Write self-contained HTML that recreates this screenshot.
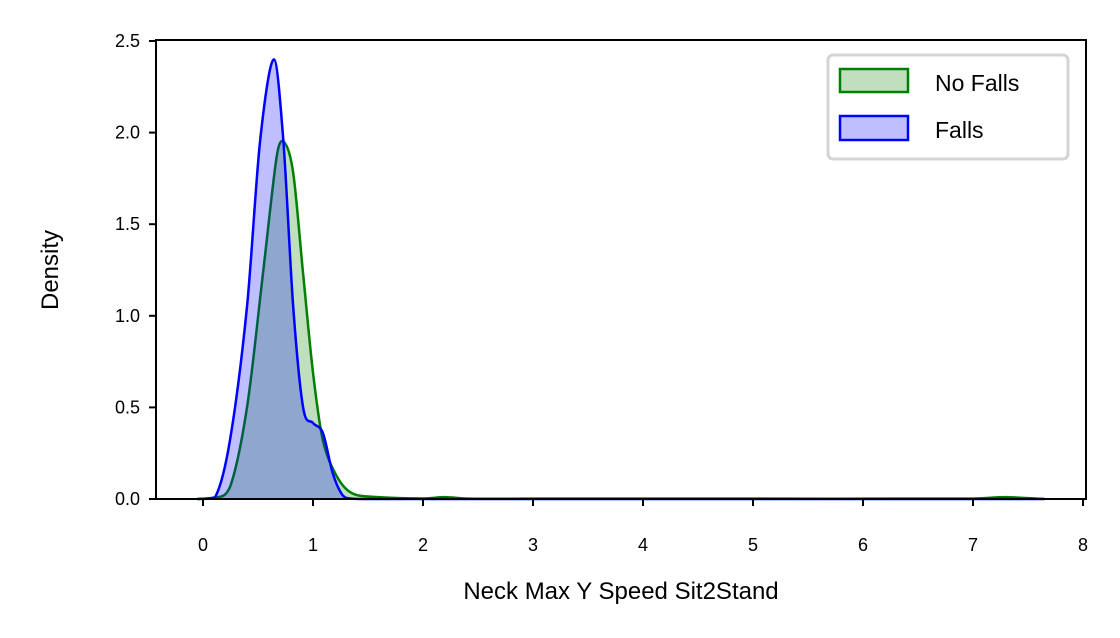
<!DOCTYPE html>
<html><head><meta charset="utf-8"><style>
body{margin:0;background:#fff;}
svg{display:block;font-family:"Liberation Sans",Arial,sans-serif;}
</style></head><body>
<svg id="chart" width="1120" height="638" viewBox="0 0 1120 638" xmlns="http://www.w3.org/2000/svg">
<rect width="1120" height="638" fill="#fff"/>
<g id="plot"></g>
<rect x="156" y="40" width="930" height="459" fill="none" stroke="#000" stroke-width="2"/>
<g id="xticks"></g>
<g id="yticks"></g>
<text x="621" y="599" font-size="24" text-anchor="middle">Neck Max Y Speed Sit2Stand</text>
<text transform="translate(58,270) rotate(-90)" font-size="24" text-anchor="middle">Density</text>
<g>
<rect x="828" y="55" width="240" height="104" rx="5" fill="#fff" stroke="#d4d4d4" stroke-width="3"/>
<rect x="840" y="69" width="68" height="23" fill="rgba(0,128,0,0.25)" stroke="#008000" stroke-width="2.5"/>
<text x="935" y="91" font-size="23">No Falls</text>
<rect x="840" y="116" width="68" height="24" fill="rgba(0,0,255,0.25)" stroke="#0000ff" stroke-width="2.5"/>
<text x="935" y="138" font-size="23">Falls</text>
</g>
</svg>
<script>
const xTicks=[0,1,2,3,4,5,6,7,8];
const yTicks=[0,0.5,1.0,1.5,2.0,2.5];
const noFallsX=[-0.05,0.1,0.245,0.4,0.545,0.67,0.735,0.82,0.91,1.0,1.09,1.22,1.36,1.6,2.0,2.2,2.4,3,5,7,7.3,7.65];
const noFallsY=[0,0.005,0.065,0.5,1.23,1.87,1.95,1.78,1.23,0.69,0.32,0.12,0.03,0.01,0.003,0.01,0.002,0.002,0.002,0.002,0.01,0];
const fallsX=[-0.05,0.11,0.245,0.4,0.52,0.645,0.73,0.82,0.91,1.0,1.09,1.18,1.27,1.35,1.45,1.6,2.0,7.65];
const fallsY=[0,0.01,0.32,1.05,1.96,2.40,1.96,1.05,0.50,0.415,0.36,0.14,0.02,0.002,0,0,0,0];
const sx=v=>203+110*v, sy=d=>499-183.2*d;
const NS="http://www.w3.org/2000/svg";
function pathD(xs,ys){
  const p=xs.map((x,i)=>[sx(x),sy(ys[i])]);
  let d="M"+p[0][0]+","+p[0][1];
  for(let i=0;i<p.length-1;i++){
    const p0=p[Math.max(0,i-1)],p1=p[i],p2=p[i+1],p3=p[Math.min(p.length-1,i+2)];
    const w1=Math.min(1,(p2[0]-p1[0])/Math.max(1,p2[0]-p0[0])*2);
    const w2=Math.min(1,(p2[0]-p1[0])/Math.max(1,p3[0]-p1[0])*2);
    let c1x=p1[0]+(p2[0]-p0[0])/6*w1, c1y=p1[1]+(p2[1]-p0[1])/6*w1;
    let c2x=p2[0]-(p3[0]-p1[0])/6*w2, c2y=p2[1]-(p3[1]-p1[1])/6*w2;
    c1y=Math.min(c1y,499);c2y=Math.min(c2y,499);
    d+=" C"+c1x+","+c1y+" "+c2x+","+c2y+" "+p2[0]+","+p2[1];
  }
  return d;
}
const plot=document.getElementById('plot');
function series(xs,ys,fill,stroke,name){
  const d=pathD(xs,ys);
  const a=document.createElementNS(NS,'path');
  a.setAttribute('d',d+" L"+sx(xs[xs.length-1])+",499 L"+sx(xs[0])+",499 Z");
  a.setAttribute('fill',fill);
  
  
  plot.appendChild(a);
  const l=document.createElementNS(NS,'path');
  l.setAttribute('d',d);l.setAttribute('fill','none');l.setAttribute('stroke',stroke);l.setAttribute('stroke-width','2.5');
  
  
  plot.appendChild(l);
}
series(noFallsX,noFallsY,'rgba(0,128,0,0.25)','#008000','no-falls');
series(fallsX,fallsY,'rgba(0,0,255,0.25)','#0000ff','falls');
const xg=document.getElementById('xticks');
xTicks.forEach(v=>{
  const t=document.createElementNS(NS,'line');
  t.setAttribute('x1',sx(v));t.setAttribute('x2',sx(v));t.setAttribute('y1',499);t.setAttribute('y2',506);t.setAttribute('stroke','#000');t.setAttribute('stroke-width','2');
  
  
  xg.appendChild(t);
  const s=document.createElementNS(NS,'text');
  s.setAttribute('x',sx(v));s.setAttribute('y',551);s.setAttribute('font-size','18');s.setAttribute('text-anchor','middle');
  s.textContent=v;
  
  
  xg.appendChild(s);
});
const yg=document.getElementById('yticks');
yTicks.forEach(v=>{
  const t=document.createElementNS(NS,'line');
  t.setAttribute('x1',149);t.setAttribute('x2',156);t.setAttribute('y1',sy(v));t.setAttribute('y2',sy(v));t.setAttribute('stroke','#000');t.setAttribute('stroke-width','2');
  
  
  yg.appendChild(t);
  const s=document.createElementNS(NS,'text');
  s.setAttribute('x',140);s.setAttribute('y',sy(v)+6);s.setAttribute('font-size','18');s.setAttribute('text-anchor','end');
  s.textContent=v.toFixed(1);
  
  
  yg.appendChild(s);
});
</script>
</body></html>
